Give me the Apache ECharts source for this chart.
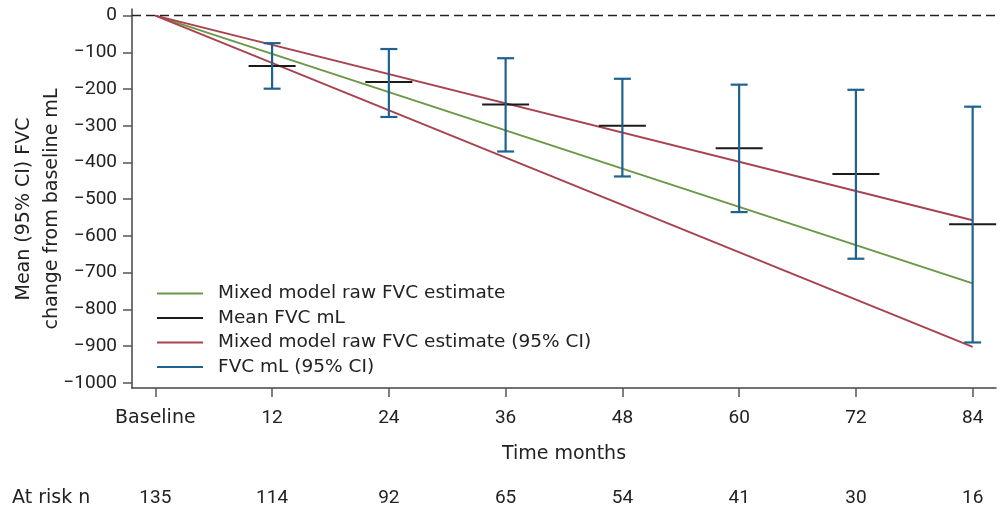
<!DOCTYPE html>
<html><head><meta charset="utf-8">
<script src="https://cdn.jsdelivr.net/npm/echarts@6/dist/echarts.min.js"></script>
<style>html,body{margin:0;padding:0;background:#fff}#c{width:1000px;height:510px}</style>
</head><body><div id="c"></div>
<script>
// ---- data ----
const months = [0, 12, 24, 36, 48, 60, 72, 84];
const monthLabels = ['Baseline', '12', '24', '36', '48', '60', '72', '84'];
const atRisk = [135, 114, 92, 65, 54, 41, 30, 16];
const ciMonths = [12, 24, 36, 48, 60, 72, 84];
const meanFVC = [-137, -181, -242, -300, -361, -431, -568];
const ciUpper = [-75, -91, -116, -172, -188, -202, -248];
const ciLower = [-199, -276, -370, -438, -535, -662, -890];
const modelMonths = [0, 84];
const modelEstimate = [0, -729];
const modelUpper = [0, -557];
const modelLower = [0, -902];
const yTicks = [0, -100, -200, -300, -400, -500, -600, -700, -800, -900, -1000];

const NAME_EST = 'Mixed model raw FVC estimate';
const NAME_MEAN = 'Mean FVC mL';
const NAME_EST_CI = 'Mixed model raw FVC estimate (95% CI)';
const NAME_CI = 'FVC mL (95% CI)';

const GREEN = '#6b9846', RED = '#a9424f', BLUE = '#1f6290', BLACK = '#1a1a1a';
const TXT = '#222';
const WFONT = 'DejaVu Sans';   // words
const NFONT = 'Roboto';        // numbers
const FS = 19;

const pairs = (xs, ys) => xs.map((x, i) => [x, ys[i]]);
const ciData = ciMonths.map((m, i) => [m, ciLower[i], ciUpper[i]]);
const meanData = pairs(ciMonths, meanFVC);

const chart = echarts.init(document.getElementById('c'), null, {renderer: 'canvas'});
chart.setOption({
  animation: false,
  backgroundColor: '#fff',
  textStyle: {fontFamily: WFONT},
  grid: {left: 132, right: 4, top: 9, bottom: 122},
  legend: {
    orient: 'vertical', left: 152, top: 279, itemGap: 5.5,
    icon: 'rect', itemWidth: 46, itemHeight: 2,
    textStyle: {fontSize: 18.5, color: TXT, fontFamily: WFONT, padding: [0, 0, 0, 10]},
    data: [
      {name: NAME_EST, itemStyle: {color: GREEN}},
      {name: NAME_MEAN, itemStyle: {color: BLACK}},
      {name: NAME_EST_CI, itemStyle: {color: RED}},
      {name: NAME_CI, itemStyle: {color: BLUE}}
    ]
  },
  xAxis: [{
    type: 'value', min: -2.4, max: 86.4, position: 'bottom',
    axisLine: {show: true, onZero: false, lineStyle: {color: '#444', width: 1.5}},
    axisTick: {show: true, length: 9, customValues: months, lineStyle: {color: '#555', width: 1.5}},
    axisLabel: {customValues: months,
      formatter: v => { const s = monthLabels[months.indexOf(v)]; return /^\d+$/.test(s) ? s : '{w|' + s + '}'; },
      rich: {w: {fontSize: 19, fontFamily: WFONT, color: TXT}},
      fontSize: FS, color: TXT, margin: 21, fontFamily: NFONT},
    splitLine: {show: false},
    name: 'Time months', nameLocation: 'middle', nameGap: 57,
    nameTextStyle: {fontSize: 19, color: TXT, fontFamily: WFONT}
  }, {
    type: 'value', min: -2.4, max: 86.4, position: 'bottom', offset: 82,
    axisLine: {show: false}, axisTick: {show: false}, splitLine: {show: false},
    axisLabel: {customValues: months, formatter: v => String(atRisk[months.indexOf(v)]),
      fontSize: FS, color: TXT, margin: 19, fontFamily: NFONT}
  }],
  yAxis: {
    type: 'value', min: -1014, max: 18,
    axisLine: {show: true, onZero: false, lineStyle: {color: '#444', width: 1.5}},
    axisTick: {show: true, length: 9, customValues: yTicks, lineStyle: {color: '#555', width: 1.5}},
    axisLabel: {customValues: yTicks, formatter: v => String(v).replace('-', '\u2212'),
      fontSize: FS, color: TXT, margin: 15, fontFamily: NFONT},
    splitLine: {show: false}
  },
  graphic: [
    {type: 'text', left: 12, top: 489, style: {text: 'At risk n', fontSize: 19, fill: TXT, fontFamily: WFONT}},
    {type: 'text', x: 24, y: 209, rotation: Math.PI / 2,
      style: {text: 'Mean (95% CI) FVC', fontSize: 19, fill: TXT, fontFamily: WFONT, align: 'center', verticalAlign: 'middle'}},
    {type: 'text', x: 52, y: 209, rotation: Math.PI / 2,
      style: {text: 'change from baseline mL', fontSize: 19, fill: TXT, fontFamily: WFONT, align: 'center', verticalAlign: 'middle'}}
  ],
  series: [
    {
      name: NAME_EST, type: 'line', data: pairs(modelMonths, modelEstimate),
      showSymbol: false, symbol: 'none', lineStyle: {color: GREEN, width: 2}, itemStyle: {color: GREEN}, z: 2,
      markLine: {silent: true, symbol: 'none', label: {show: false},
        lineStyle: {type: [9, 5], color: '#222', width: 1.3}, data: [{yAxis: 0}]}
    },
    {
      name: NAME_EST_CI, type: 'line', data: pairs(modelMonths, modelUpper),
      showSymbol: false, symbol: 'none', lineStyle: {color: RED, width: 2}, itemStyle: {color: RED}, z: 2
    },
    {
      name: NAME_EST_CI, type: 'line', data: pairs(modelMonths, modelLower),
      showSymbol: false, symbol: 'none', lineStyle: {color: RED, width: 2}, itemStyle: {color: RED}, z: 2
    },
    {
      name: NAME_MEAN, type: 'custom', data: meanData, itemStyle: {color: BLACK}, z: 3,
      renderItem: (params, api) => {
        const p = api.coord([api.value(0), api.value(1)]);
        return {type: 'line', shape: {x1: p[0] - 23.5, y1: p[1], x2: p[0] + 23.5, y2: p[1]},
          style: {stroke: BLACK, lineWidth: 2}};
      }
    },
    {
      name: NAME_CI, type: 'custom', data: ciData, itemStyle: {color: BLUE}, z: 4,
      renderItem: (params, api) => {
        const x = api.value(0);
        const lo = api.coord([x, api.value(1)]);
        const hi = api.coord([x, api.value(2)]);
        const cap = 8.5;
        const st = {stroke: BLUE, lineWidth: 2.2};
        return {type: 'group', children: [
          {type: 'line', shape: {x1: lo[0], y1: lo[1], x2: hi[0], y2: hi[1]}, style: st},
          {type: 'line', shape: {x1: lo[0] - cap, y1: lo[1], x2: lo[0] + cap, y2: lo[1]}, style: st},
          {type: 'line', shape: {x1: hi[0] - cap, y1: hi[1], x2: hi[0] + cap, y2: hi[1]}, style: st}
        ]};
      }
    }
  ]
});
</script></body></html>
